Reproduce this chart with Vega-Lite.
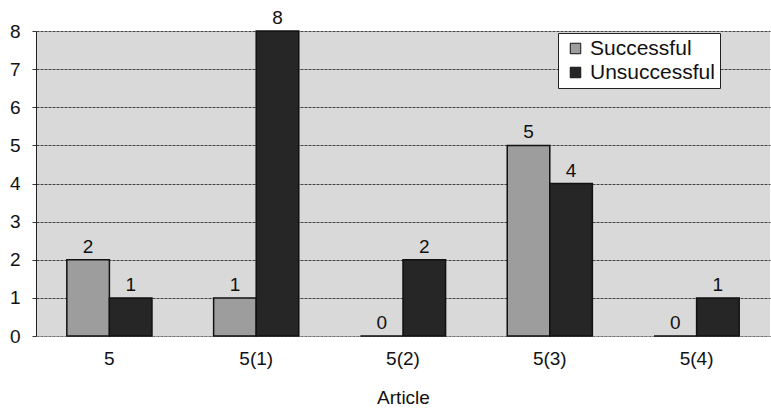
{
  "$schema": "https://vega.github.io/schema/vega-lite/v6.json",
  "autosize": {"type": "none"},
  "width": 734,
  "height": 305,
  "padding": {"left": 36, "top": 31, "right": 1, "bottom": 81},
  "background": "white",
  "config": {
    "font": "Liberation Sans",
    "view": {"fill": "#d9d9d9", "stroke": null},
    "axis": {"labelFont": "Liberation Sans", "titleFont": "Liberation Sans", "labelColor": "#111", "titleColor": "#111"}
  },
  "data": {
    "values": [
      {"Article": "5", "Outcome": "Successful", "Count": 2},
      {"Article": "5", "Outcome": "Unsuccessful", "Count": 1},
      {"Article": "5(1)", "Outcome": "Successful", "Count": 1},
      {"Article": "5(1)", "Outcome": "Unsuccessful", "Count": 8},
      {"Article": "5(2)", "Outcome": "Successful", "Count": 0},
      {"Article": "5(2)", "Outcome": "Unsuccessful", "Count": 2},
      {"Article": "5(3)", "Outcome": "Successful", "Count": 5},
      {"Article": "5(3)", "Outcome": "Unsuccessful", "Count": 4},
      {"Article": "5(4)", "Outcome": "Successful", "Count": 0},
      {"Article": "5(4)", "Outcome": "Unsuccessful", "Count": 1}
    ]
  },
  "encoding": {
    "x": {
      "field": "Article",
      "type": "nominal",
      "sort": ["5", "5(1)", "5(2)", "5(3)", "5(4)"],
      "scale": {"paddingInner": 0.42, "paddingOuter": 0.21},
      "axis": {
        "title": "Article",
        "titleFontSize": 19,
        "titleFontWeight": "normal",
        "titlePadding": 20,
        "labelFontSize": 19,
        "labelAngle": 0,
        "labelPadding": 13,
        "ticks": false,
        "domainColor": "#888",
        "domainDash": [2, 2]
      }
    },
    "xOffset": {"field": "Outcome", "type": "nominal", "sort": ["Successful", "Unsuccessful"]},
    "y": {
      "field": "Count",
      "type": "quantitative",
      "scale": {"domain": [0, 8], "nice": false},
      "axis": {
        "title": null,
        "values": [0, 1, 2, 3, 4, 5, 6, 7, 8],
        "labelFontSize": 19,
        "labelPadding": 12,
        "tickSize": 4,
        "tickColor": "#333",
        "domainColor": "#222",
        "gridColor": "#444",
        "gridWidth": 1,
        "gridDash": [3, 1]
      }
    }
  },
  "layer": [
    {
      "mark": {"type": "bar", "stroke": "#111", "strokeWidth": 1.5},
      "encoding": {
        "color": {
          "field": "Outcome",
          "type": "nominal",
          "sort": ["Successful", "Unsuccessful"],
          "scale": {"domain": ["Successful", "Unsuccessful"], "range": ["#9d9d9d", "#262626"]},
          "legend": {
            "title": null,
            "orient": "none",
            "legendX": 522,
            "legendY": 2,
            "fillColor": "white",
            "strokeColor": "#222",
            "padding": 5,
            "symbolType": "square",
            "symbolSize": 110,
            "symbolStrokeColor": "#111",
            "symbolStrokeWidth": 1,
            "symbolOffset": 2,
            "labelOffset": 4,
            "labelFontSize": 21,
            "labelColor": "#111",
            "rowPadding": 2
          }
        }
      }
    },
    {
      "mark": {"type": "text", "baseline": "bottom", "dy": -3, "fontSize": 19, "color": "#111"},
      "encoding": {"text": {"field": "Count", "type": "quantitative"}}
    }
  ]
}
